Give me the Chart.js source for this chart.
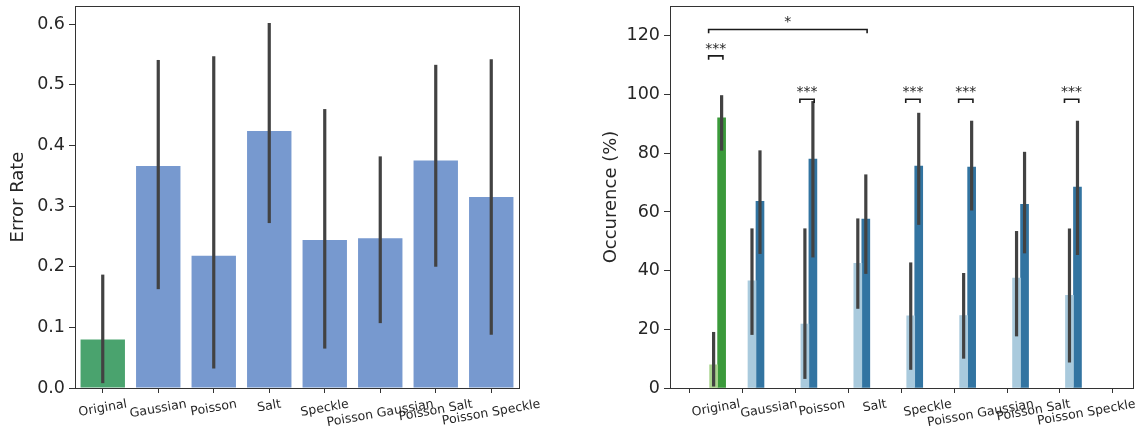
<!DOCTYPE html>
<html>
<head>
<meta charset="utf-8">
<script src="https://cdn.jsdelivr.net/npm/chart.js@4.4.1/dist/chart.umd.min.js"></script>
<style>
  body { margin: 0; background: #fff; width: 1141px; height: 430px; position: relative; overflow: hidden; }
  canvas { position: absolute; top: 0; }
  #errChart { left: 0; }
  #occChart { left: 593px; }
</style>
</head>
<body>
<canvas id="errChart" width="560" height="430"></canvas>
<canvas id="occChart" width="548" height="430"></canvas>
<script>
// categories shared by both panels
const categories = ['Original', 'Gaussian', 'Poisson', 'Salt', 'Speckle', 'Poisson Gaussian', 'Poisson Salt', 'Poisson Speckle'];

// left panel: error rate with CI
const errorRate = [0.080, 0.366, 0.218, 0.424, 0.244, 0.247, 0.375, 0.315];
const errorLo   = [0.008, 0.163, 0.032, 0.272, 0.065, 0.107, 0.200, 0.088];
const errorHi   = [0.187, 0.541, 0.547, 0.602, 0.460, 0.382, 0.533, 0.542];
const errTicks  = [0, 0.1, 0.2, 0.3, 0.4, 0.5, 0.6];

// right panel: occurence (%), light and dark bar per category
const occLight   = [7.9, 36.5, 21.8, 42.5, 24.6, 24.7, 37.5, 31.6];
const occLightLo = [0.5, 18.1, 3.1, 27.0, 6.2, 10.0, 17.6, 8.7];
const occLightHi = [19.1, 54.4, 54.4, 57.8, 42.8, 39.2, 53.5, 54.4];
const occDark    = [92.1, 63.6, 78.0, 57.6, 75.6, 75.3, 62.6, 68.5];
const occDarkLo  = [80.9, 45.7, 44.5, 38.9, 55.6, 60.5, 45.9, 45.3];
const occDarkHi  = [99.8, 81.0, 97.8, 72.8, 93.8, 91.1, 80.5, 91.1];
const occTicks   = [0, 20, 40, 60, 80, 100, 120];

// significance brackets
const sigFrom  = [0, 0, 2, 4, 5, 7];
const sigTo    = [0, 3, 2, 4, 5, 7];
const sigLevel = [113.2, 122.2, 98.4, 98.4, 98.4, 98.4];
const sigLabel = ['***', '*', '***', '***', '***', '***'];

const FONT = "'DejaVu Sans', sans-serif";
const INK = '#262626';
const ROT = 10 * Math.PI / 180;

// bars in the right panel sit a bit left of their tick, except the first pair
const pairX = i => i + (i === 0 ? 0.03 : -0.245);

function drawXLabels(chart) {
  const ctx = chart.ctx, xs = chart.scales.x;
  const top = chart.chartArea.bottom + 9;
  ctx.save();
  ctx.font = '12.5px ' + FONT;
  ctx.fillStyle = INK;
  ctx.textAlign = 'center';
  ctx.textBaseline = 'middle';
  categories.forEach((lab, i) => {
    const w = ctx.measureText(lab).width, h = 12.5 * 1.17;
    const H = w * Math.sin(ROT) + h * Math.cos(ROT);
    ctx.save();
    ctx.translate(xs.getPixelForValue(i), top + H / 2);
    ctx.rotate(-ROT);
    ctx.fillText(lab, 0, 0);
    ctx.restore();
  });
  ctx.restore();
}

function drawFrame(chart) {
  const a = chart.chartArea, ctx = chart.ctx;
  ctx.save();
  ctx.strokeStyle = '#333';
  ctx.lineWidth = 1;
  ctx.strokeRect(Math.round(a.left) + 0.5, Math.round(a.top) + 0.5, Math.round(a.right - a.left), Math.round(a.bottom - a.top));
  ctx.restore();
}

function drawErrBars(chart, datasetIndex, lo, hi) {
  const ctx = chart.ctx, ys = chart.scales.y;
  const meta = chart.getDatasetMeta(datasetIndex);
  ctx.save();
  ctx.strokeStyle = '#424242';
  ctx.lineWidth = 3.2;
  meta.data.forEach((bar, i) => {
    ctx.beginPath();
    ctx.moveTo(bar.x, ys.getPixelForValue(lo[i]));
    ctx.lineTo(bar.x, ys.getPixelForValue(hi[i]));
    ctx.stroke();
  });
  ctx.restore();
}

function yAxis(ticks, fmt, title, width) {
  return {
    min: 0,
    max: ticks === errTicks ? 0.63 : 130.2,
    afterBuildTicks: ax => { ax.ticks = ticks.map(v => ({ value: v })); },
    afterFit: ax => { ax.width = width; ax.paddingTop = 0; ax.paddingBottom = 0; },
    grid: { drawOnChartArea: false, tickLength: 6, tickColor: '#333', lineWidth: 1 },
    border: { display: false },
    ticks: { callback: fmt, color: INK, padding: 4, font: { family: FONT, size: 17.5 } },
    title: { display: true, text: title, color: INK, font: { family: FONT, size: 18 }, padding: { top: 8, bottom: 0 } }
  };
}

const common = {
  responsive: false,
  animation: false,
  plugins: { legend: { display: false }, tooltip: { enabled: false } }
};

// Left: Error Rate
new Chart(document.getElementById('errChart').getContext('2d'), {
  type: 'bar',
  data: {
    labels: categories,
    datasets: [{
      data: errorRate,
      backgroundColor: categories.map((c, i) => i === 0 ? '#4aa36e' : '#7799cf'),
      barPercentage: 0.8,
      categoryPercentage: 1.0
    }]
  },
  options: {
    ...common,
    layout: { padding: { top: 6, bottom: 0, left: 0, right: 41 } },
    scales: {
      x: {
        afterFit: ax => { ax.height = 42; ax.paddingLeft = 0; ax.paddingRight = 0; },
        grid: { drawOnChartArea: false, tickLength: 5, tickColor: '#333', offset: false },
        border: { display: false },
        ticks: { display: false }
      },
      y: yAxis(errTicks, v => v.toFixed(1), 'Error Rate', 75)
    }
  },
  plugins: [{
    id: 'errDeco',
    afterDatasetsDraw: chart => drawErrBars(chart, 0, errorLo, errorHi),
    afterDraw: chart => { drawFrame(chart); drawXLabels(chart); }
  }]
});

// Right: Occurence (%)
new Chart(document.getElementById('occChart').getContext('2d'), {
  type: 'bar',
  data: {
    datasets: [
      {
        data: occLight.map((v, i) => ({ x: pairX(i), y: v })),
        backgroundColor: categories.map((c, i) => i === 0 ? '#a8d38d' : '#a9cadd'),
        barThickness: 8
      },
      {
        data: occDark.map((v, i) => ({ x: pairX(i), y: v })),
        backgroundColor: categories.map((c, i) => i === 0 ? '#3b9a3b' : '#3274a1'),
        barThickness: 8
      }
    ]
  },
  options: {
    ...common,
    layout: { padding: { top: 6, bottom: 0, left: 0, right: 8 } },
    scales: {
      x: {
        type: 'linear',
        min: -0.87,
        max: 7.88,
        offset: false,
        afterBuildTicks: ax => { ax.ticks = categories.map((c, i) => ({ value: i })); },
        afterFit: ax => { ax.height = 42; ax.paddingLeft = 0; ax.paddingRight = 0; },
        grid: { drawOnChartArea: false, tickLength: 5, tickColor: '#333' },
        border: { display: false },
        ticks: { display: false }
      },
      y: yAxis(occTicks, v => String(v), 'Occurence (%)', 77)
    }
  },
  plugins: [{
    id: 'occDeco',
    afterDatasetsDraw: chart => {
      drawErrBars(chart, 0, occLightLo, occLightHi);
      drawErrBars(chart, 1, occDarkLo, occDarkHi);
      const ctx = chart.ctx, xs = chart.scales.x, ys = chart.scales.y;
      ctx.save();
      ctx.strokeStyle = '#1a1a1a';
      ctx.fillStyle = INK;
      ctx.lineWidth = 1.6;
      ctx.font = '14px ' + FONT;
      ctx.textAlign = 'center';
      ctx.textBaseline = 'alphabetic';
      sigLabel.forEach((lab, k) => {
        const x1 = xs.getPixelForValue(pairX(sigFrom[k]) - 0.17);
        const x2 = xs.getPixelForValue(pairX(sigTo[k]) + 0.1);
        const yTop = ys.getPixelForValue(sigLevel[k]);
        const yLeg = ys.getPixelForValue(sigLevel[k] - 1.3);
        ctx.beginPath();
        ctx.moveTo(x1, yLeg);
        ctx.lineTo(x1, yTop);
        ctx.lineTo(x2, yTop);
        ctx.lineTo(x2, yLeg);
        ctx.stroke();
        ctx.fillText(lab, (x1 + x2) / 2, yTop - 3);
      });
      ctx.restore();
    },
    afterDraw: chart => { drawFrame(chart); drawXLabels(chart); }
  }]
});
</script>
</body>
</html>
